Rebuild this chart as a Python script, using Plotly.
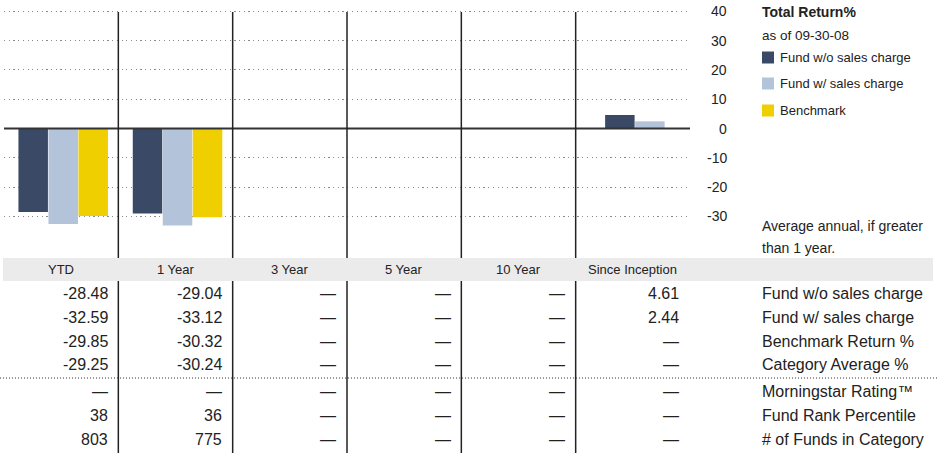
import plotly.graph_objects as go

# ---------------- data ----------------
categories = ["YTD", "1 Year", "3 Year", "5 Year", "10 Year", "Since Inception"]
series_names = ["Fund w/o sales charge", "Fund w/ sales charge", "Benchmark"]
fund_wo_sales = [-28.48, -29.04, None, None, None, 4.61]
fund_w_sales = [-32.59, -33.12, None, None, None, 2.44]
benchmark = [-29.85, -30.32, None, None, None, None]
category_avg = [-29.25, -30.24, None, None, None, None]
morningstar_rating = [None, None, None, None, None, None]
fund_rank_pct = [38, 36, None, None, None, None]
num_funds = [803, 775, None, None, None, None]
row_labels = ["Fund w/o sales charge", "Fund w/ sales charge", "Benchmark Return %",
              "Category Average %", "Morningstar Rating\u2122", "Fund Rank Percentile",
              "# of Funds in Category"]
y_ticks = [40, 30, 20, 10, 0, -10, -20, -30]
series_colors = ["#3a4a66", "#b3c3d9", "#f0cf00"]
legend_title = "Total Return%"
legend_subtitle = "as of 09-30-08"
note_lines = ["Average annual, if greater", "than 1 year."]

# ---------------- layout helpers ----------------
W, H = 939, 453
FONT = "Liberation Sans, Arial, sans-serif"
TXT = "#222222"


def px(x):
    return x / W


def py(y):
    return 1 - y / H


# y scale: value 0 at 128.5px, 2.93 px per unit
y_top = (128.5 - 0) / 2.93
y_bot = (128.5 - 258) / 2.93

series_values = [fund_wo_sales, fund_w_sales, benchmark]
bar_w = 0.258
step = 0.2625
shift = 0.02

# compute per-bar offsets (present bars centered in their category)
offsets = [[None] * len(categories) for _ in series_values]
for i in range(len(categories)):
    present = [k for k, s in enumerate(series_values) if s[i] is not None]
    n = len(present)
    for j, k in enumerate(present):
        offsets[k][i] = shift + (j - n / 2) * step

fig = go.Figure()
for k, (name, vals) in enumerate(zip(series_names, series_values)):
    xs, ys, offs = [], [], []
    for i, v in enumerate(vals):
        if v is not None:
            xs.append(i)
            ys.append(v)
            offs.append(offsets[k][i])
    fig.add_trace(go.Bar(
        x=xs, y=ys, width=[bar_w] * len(xs), offset=offs,
        marker=dict(color=series_colors[k], line=dict(width=0)),
        name=name, showlegend=False, hoverinfo="skip",
    ))

shapes = []
annotations = []

# zero line
shapes.append(dict(type="line", xref="x", yref="y", x0=-0.5, x1=5.52, y0=0, y1=0,
                   line=dict(color="#333333", width=2), layer="above"))

# vertical column separators
for i in range(len(categories) - 1):
    xv = i + 0.5
    shapes.append(dict(type="line", xref="x", yref="paper", x0=xv, x1=xv,
                       y0=py(12), y1=py(258), line=dict(color="#222222", width=1.5)))
    shapes.append(dict(type="line", xref="x", yref="paper", x0=xv, x1=xv,
                       y0=py(281), y1=py(453), line=dict(color="#222222", width=1.5)))

# header band
shapes.append(dict(type="rect", xref="paper", yref="paper", x0=px(3), x1=px(933),
                   y0=py(281), y1=py(258), fillcolor="#ebebeb", line=dict(width=0),
                   layer="below"))

# dotted separator in table
shapes.append(dict(type="line", xref="paper", yref="paper", x0=px(0), x1=px(938),
                   y0=py(378), y1=py(378),
                   line=dict(color="#333333", width=1, dash="1px,2px")))

# right axis tick labels
for t in y_ticks:
    annotations.append(dict(xref="paper", yref="y", x=px(729), y=t, text=str(t),
                            xanchor="right", yanchor="middle", showarrow=False,
                            font=dict(family=FONT, size=14, color=TXT)))

# legend
annotations.append(dict(xref="paper", yref="paper", x=px(760), y=py(12),
                        text="<b>" + legend_title + "</b>", xanchor="left", yanchor="middle",
                        showarrow=False, font=dict(family=FONT, size=14, color=TXT)))
annotations.append(dict(xref="paper", yref="paper", x=px(760), y=py(36),
                        text=legend_subtitle, xanchor="left", yanchor="middle",
                        showarrow=False, font=dict(family=FONT, size=13.5, color=TXT)))
legend_y = [57.5, 83.5, 110.5]
for k, name in enumerate(series_names):
    yc = legend_y[k]
    shapes.append(dict(type="rect", xref="paper", yref="paper", x0=px(762), x1=px(774),
                       y0=py(yc + 6), y1=py(yc - 6), fillcolor=series_colors[k],
                       line=dict(width=0)))
    annotations.append(dict(xref="paper", yref="paper", x=px(778), y=py(yc), text=name,
                            xanchor="left", yanchor="middle", showarrow=False,
                            font=dict(family=FONT, size=13, color=TXT)))

# notes
for yy, line in zip([226, 248], note_lines):
    annotations.append(dict(xref="paper", yref="paper", x=px(760), y=py(yy), text=line,
                            xanchor="left", yanchor="middle", showarrow=False,
                            font=dict(family=FONT, size=14, color=TXT)))

# column headers
for i, c in enumerate(categories):
    annotations.append(dict(xref="x", yref="paper", x=i, y=py(269.5), text=c,
                            xanchor="center", yanchor="middle", showarrow=False,
                            font=dict(family=FONT, size=13, color=TXT)))

# table rows
rows = [fund_wo_sales, fund_w_sales, benchmark, category_avg,
        morningstar_rating, fund_rank_pct, num_funds]
row_y = [293, 317, 341, 364.5, 391, 415, 439]


def fmt(v):
    if v is None:
        return "\u2014"
    if isinstance(v, float):
        return f"{v:.2f}"
    return str(v)


for r, (vals, yy) in enumerate(zip(rows, row_y)):
    for i, v in enumerate(vals):
        annotations.append(dict(xref="x", yref="paper", x=i + 0.5 - 0.075, y=py(yy),
                                text=fmt(v), xanchor="right", yanchor="middle",
                                showarrow=False,
                                font=dict(family=FONT, size=16, color=TXT)))
    annotations.append(dict(xref="paper", yref="paper", x=px(760), y=py(yy),
                            text=row_labels[r], xanchor="left", yanchor="middle",
                            showarrow=False, font=dict(family=FONT, size=16, color=TXT)))

fig.update_layout(
    width=W, height=H,
    margin=dict(l=0, r=0, t=0, b=0),
    paper_bgcolor="white", plot_bgcolor="white",
    barmode="overlay",
    xaxis=dict(domain=[px(4), px(690)], range=[-0.5, 5.5], showgrid=False,
               showticklabels=False, zeroline=False, showline=False, ticks=""),
    yaxis=dict(domain=[py(258), 1], range=[y_bot, y_top], tickvals=y_ticks,
               showticklabels=False, zeroline=False, showline=False, ticks="",
               showgrid=True, gridcolor="#8a8a8a", gridwidth=1, griddash="1.2px,3.5px"),
    shapes=shapes,
    annotations=annotations,
    font=dict(family=FONT, color=TXT),
)

fig.write_html(
    "out.html",
    config={"displayModeBar": False},
    post_script="document.body.style.margin='0';document.body.style.padding='0';",
)
